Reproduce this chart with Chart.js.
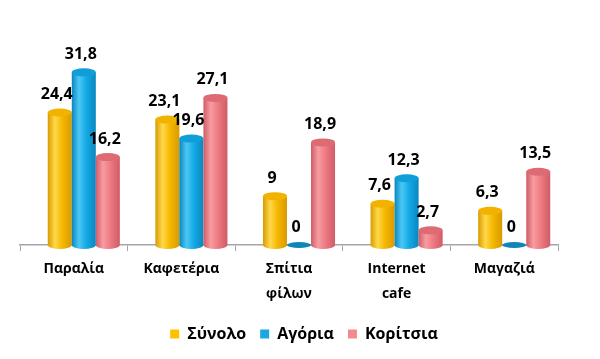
<!DOCTYPE html>
<html>
<head>
<meta charset="utf-8">
<script src="https://cdn.jsdelivr.net/npm/chart.js@4"></script>
<style>
  html, body { margin: 0; padding: 0; background: #fff; }
  #wrap { width: 600px; height: 359px; }
</style>
</head>
<body>
<div id="wrap"><canvas id="chart" width="600" height="359"></canvas></div>
<script>
const categories = ['Παραλία', 'Καφετέρια', ['Σπίτια', 'φίλων'], ['Internet', 'cafe'], 'Μαγαζιά'];
const seriesNames = ['Σύνολο', 'Αγόρια', 'Κορίτσια'];
const synolo = [24.4, 23.1, 9, 7.6, 6.3];
const agoria = [31.8, 19.6, 0, 12.3, 0];
const koritsia = [16.2, 27.1, 18.9, 2.7, 13.5];

// colours for each cylinder: edge / light / mid / cap
const shades = [
  { solid: '#FFC000', edge: '#D99A00', light: '#FFD84A', mid: '#F5B800', cap: '#F2B200', disc: '#D99A00' },
  { solid: '#1AA7E2', edge: '#0A86BE', light: '#4CC8F5', mid: '#14AAE6', cap: '#0F9ED8', disc: '#0E86B8' },
  { solid: '#F28B90', edge: '#CF5C66', light: '#F79CA2', mid: '#EE7B82', cap: '#DE6A73', disc: '#CF5C66' }
];

const shiftX = 10; // bars sit a little to the right of the label, like the 3d excel look

function drawCylinder(ctx, x, top, base, w, c) {
  const rx = w / 2, ry = 4;
  if (base - top < 1) {
    ctx.beginPath();
    ctx.ellipse(x, base, rx, ry - 1, 0, 0, Math.PI * 2);
    ctx.fillStyle = c.disc;
    ctx.fill();
    return;
  }
  const g = ctx.createLinearGradient(x - rx, 0, x + rx, 0);
  g.addColorStop(0, c.edge);
  g.addColorStop(0.3, c.light);
  g.addColorStop(0.6, c.mid);
  g.addColorStop(1, c.edge);
  ctx.beginPath();
  ctx.moveTo(x - rx, top);
  ctx.lineTo(x - rx, base);
  ctx.ellipse(x, base, rx, ry, 0, Math.PI, 0, true);
  ctx.lineTo(x + rx, top);
  ctx.closePath();
  ctx.fillStyle = g;
  ctx.fill();
  ctx.beginPath();
  ctx.ellipse(x, top, rx, ry, 0, 0, Math.PI * 2);
  ctx.fillStyle = c.cap;
  ctx.fill();
}

const cylinders = {
  id: 'cylinders',
  beforeDatasetsDraw(chart) {
    const ctx = chart.ctx;
    ctx.save();
    ctx.translate(shiftX, 0);
    chart.data.datasets.forEach((ds, i) => {
      const meta = chart.getDatasetMeta(i);
      meta.data.forEach(bar => {
        drawCylinder(ctx, bar.x, bar.y, bar.base, bar.width, shades[i]);
      });
    });
    // value labels
    ctx.font = 'bold 16px "Open Sans"';
    ctx.fillStyle = '#000';
    ctx.textAlign = 'center';
    ctx.textBaseline = 'bottom';
    chart.data.datasets.forEach((ds, i) => {
      const meta = chart.getDatasetMeta(i);
      meta.data.forEach((bar, j) => {
        const txt = String(ds.data[j]).replace('.', ',');
        ctx.fillText(txt, bar.x - 3, bar.y - 10);
      });
    });
    ctx.restore();
    return false;
  }
};

// invisible side axes just to reserve room, so the legend stays centred on the page
const hiddenSide = (w) => ({
  ticks: { display: false },
  grid: { display: false },
  border: { display: false },
  afterFit(scale) { scale.width = w; }
});

const ctx = document.getElementById('chart').getContext('2d');
const chart = new Chart(ctx, {
  type: 'bar',
  data: {
    labels: categories,
    datasets: [
      { label: seriesNames[0], data: synolo, backgroundColor: shades[0].solid },
      { label: seriesNames[1], data: agoria, backgroundColor: shades[1].solid },
      { label: seriesNames[2], data: koritsia, backgroundColor: shades[2].solid }
    ]
  },
  options: {
    responsive: false,
    animation: false,
    layout: { padding: { left: 8, right: 0, top: 55, bottom: 7 } },
    datasets: { bar: { categoryPercentage: 0.67, barPercentage: 1 } },
    scales: {
      x: {
        grid: { drawOnChartArea: false, color: '#A6A6A6', tickLength: 6, offset: true },
        border: { color: '#A6A6A6', width: 1.5 },
        ticks: { color: '#000', font: { family: 'Open Sans', weight: 'bold', size: 14, lineHeight: 1.75 }, padding: 6, maxRotation: 0 }
      },
      y: Object.assign({ min: 0, max: 35, position: 'left' }, hiddenSide(12)),
      y2: Object.assign({ type: 'linear', position: 'right', min: 0, max: 35 }, hiddenSide(42))
    },
    plugins: {
      legend: {
        position: 'bottom',
        labels: { boxWidth: 9, boxHeight: 9, padding: 14, color: '#000', font: { family: 'Open Sans', weight: 'bold', size: 16 } }
      },
      tooltip: { enabled: false }
    }
  },
  plugins: [cylinders]
});
</script>
</body>
</html>
